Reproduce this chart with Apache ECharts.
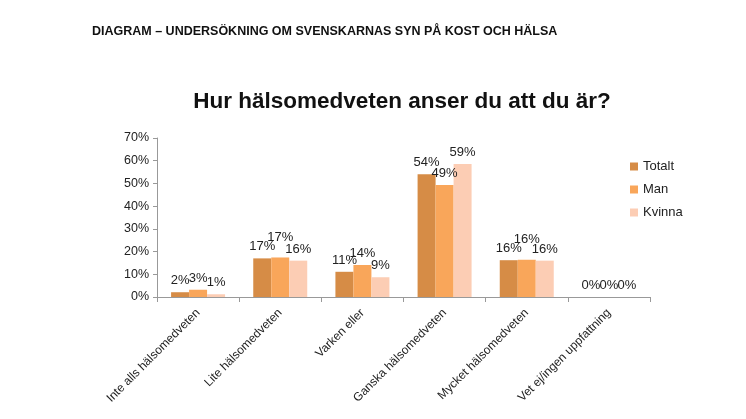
<!DOCTYPE html>
<html><head><meta charset="utf-8">
<script src="https://cdn.jsdelivr.net/npm/echarts@6/dist/echarts.min.js"></script>
<style>html,body{margin:0;padding:0;background:#fff}#c{width:746px;height:419px}</style>
</head><body><div id="c"></div>
<script>
var categories = ['Inte alls hälsomedveten','Lite hälsomedveten','Varken eller','Ganska hälsomedveten','Mycket hälsomedveten','Vet ej/ingen uppfattning'];
var seriesNames = ['Totalt','Man','Kvinna'];
var totalt = [2.1, 17.0, 11.1, 54.0, 16.2, 0];
var man = [3.2, 17.4, 14.1, 49.3, 16.4, 0];
var kvinna = [1.2, 16.0, 8.7, 58.6, 16.0, 0];
var yTicks = [0,10,20,30,40,50,60,70];
var colors = ['#D68C46','#F9A65A','#FCCDB4'];

var chart = echarts.init(document.getElementById('c'));
var font = 'Liberation Sans, Arial, sans-serif';
function mk(name, data, idx, lift) {
  return {
    name: name, type: 'bar', data: data.map(function(v,i){
      var d = {value: v};
      if (lift && lift[i]) d.label = {distance: 5 + lift[i]};
      return d;
    }),
    barWidth: 18, barGap: '0%',
    itemStyle: {color: colors[idx]},
    label: {show: true, position: 'top', distance: 5, color: '#222', fontFamily: font, fontSize: 13,
      formatter: function(p){ return Math.round(p.value) + '%'; }}
  };
}
chart.setOption({
  animation: false,
  title: [
    {text: 'DIAGRAM – UNDERSÖKNING OM SVENSKARNAS SYN PÅ KOST OCH HÄLSA', left: 87, top: 20,
      textStyle: {fontFamily: font, fontSize: 12.5, fontWeight: 'bold', color: '#111'}},
    {text: 'Hur hälsomedveten anser du att du är?', left: 397, textAlign: 'center', top: 85,
      textStyle: {fontFamily: font, fontSize: 22.5, fontWeight: 'bold', color: '#111'}}
  ],
  legend: {orient: 'vertical', left: 625, top: 155, itemWidth: 8, itemHeight: 8, itemGap: 10,
    icon: 'rect', data: seriesNames,
    textStyle: {fontFamily: font, fontSize: 13, color: '#222'}},
  grid: {left: 157, right: 96, top: 138, bottom: 122, containLabel: false},
  xAxis: {type: 'category', data: categories,
    axisLine: {lineStyle: {color: '#999'}},
    axisTick: {show: true, alignWithLabel: false, length: 5, lineStyle: {color: '#999'}},
    axisLabel: {rotate: 45, interval: 0, fontFamily: font, fontSize: 12, color: '#222', margin: 14}},
  yAxis: {type: 'value', min: 0, max: 70, interval: 10,
    axisLine: {show: true, lineStyle: {color: '#999'}},
    axisTick: {show: true, length: 4, lineStyle: {color: '#999'}},
    splitLine: {show: false},
    axisLabel: {fontFamily: font, fontSize: 12.5, color: '#222', margin: 8,
      formatter: function(v){ return yTicks.indexOf(v) >= 0 ? v + '%' : ''; }}},
  series: [
    mk('Totalt', totalt, 0),
    mk('Man', man, 1, [0,9,0,0,9,0]),
    mk('Kvinna', kvinna, 2)
  ]
});
</script></body></html>
